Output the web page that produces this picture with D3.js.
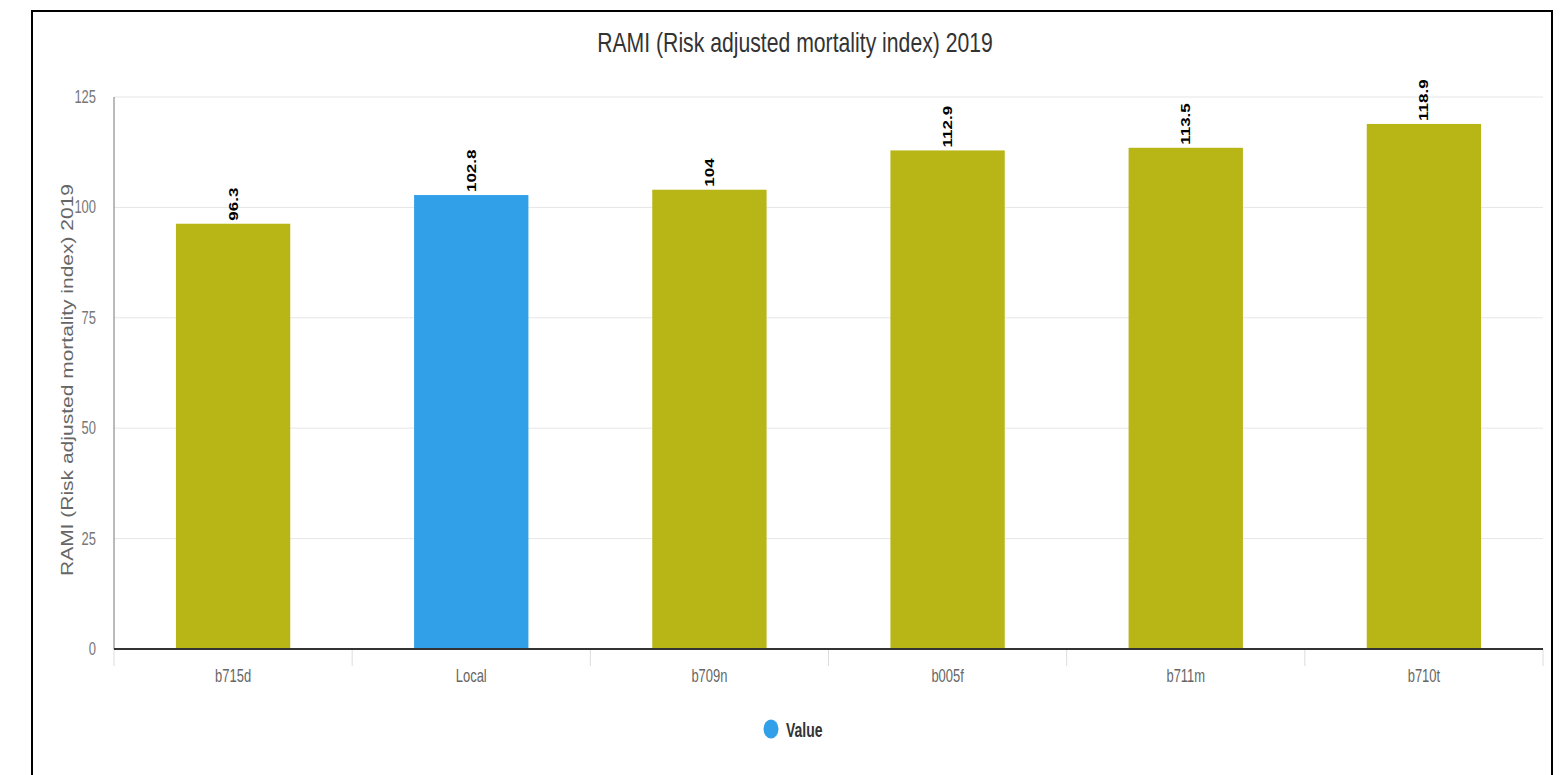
<!DOCTYPE html>
<html>
<head>
<meta charset="utf-8">
<script src="https://cdn.jsdelivr.net/npm/d3@7"></script>
<style>
  body { margin: 0; background: #fff; }
  svg { display: block; }
  text { font-family: "Liberation Sans", Arial, sans-serif; }
</style>
</head>
<body>
<svg id="chart" width="1560" height="775"></svg>
<script>
// Chart data
var categories = ["b715d", "Local", "b709n", "b005f", "b711m", "b710t"];
var values = [96.3, 102.8, 104, 112.9, 113.5, 118.9];
var highlight = "Local";
var yTicks = [0, 25, 50, 75, 100, 125];

var chartTitle = "RAMI (Risk adjusted mortality index) 2019";
var yLabel = "RAMI (Risk adjusted mortality index) 2019";
var legendLabel = "Value";

var olive = "#b8b516",
    blue = "#31a0e8";

// the original text is narrow, squeeze glyphs sideways
var squeeze = 0.72;

var svg = d3.select("#chart"),
    width = +svg.attr("width"),
    height = +svg.attr("height");

var margin = { left: 114, right: 17, top: 97, bottom: 126 };

// outer frame
svg.append("rect")
    .attr("x", 32).attr("y", 11)
    .attr("width", 1520).attr("height", 800)
    .attr("fill", "none")
    .attr("stroke", "#000")
    .attr("stroke-width", 2);

var x = d3.scaleBand()
    .domain(categories)
    .range([margin.left, width - margin.right])
    .paddingInner(0.52)
    .paddingOuter(0.26);

var y = d3.scaleLinear()
    .domain([0, 125])
    .range([height - margin.bottom, margin.top]);

// gridlines
svg.append("g")
    .selectAll("line")
    .data(yTicks.filter(function (d) { return d > 0; }))
    .enter()
    .append("line")
    .attr("x1", margin.left)
    .attr("x2", width - margin.right)
    .attr("y1", function (d) { return y(d); })
    .attr("y2", function (d) { return y(d); })
    .attr("stroke", "#e6e6e6")
    .attr("stroke-width", 1);

// y axis
svg.append("line")
    .attr("x1", margin.left).attr("x2", margin.left)
    .attr("y1", y(125)).attr("y2", y(0))
    .attr("stroke", "#777")
    .attr("stroke-width", 1);
svg.append("g")
    .selectAll("text")
    .data(yTicks)
    .enter()
    .append("text")
    .attr("transform", function (d) {
        return "translate(96," + (y(d) + 6) + ") scale(" + squeeze + ",1)";
    })
    .attr("text-anchor", "end")
    .attr("font-size", "18px")
    .attr("fill", "#777")
    .text(function (d) { return d; });

// bars
svg.append("g")
    .selectAll("rect")
    .data(categories)
    .enter()
    .append("rect")
    .attr("x", function (d) { return x(d); })
    .attr("y", function (d, i) { return y(values[i]); })
    .attr("width", x.bandwidth())
    .attr("height", function (d, i) { return y(0) - y(values[i]); })
    .attr("fill", function (d) { return d === highlight ? blue : olive; });

// value labels
svg.append("g")
    .selectAll("text")
    .data(categories)
    .enter()
    .append("text")
    .attr("transform", function (d, i) {
        return "translate(" + (x(d) + x.bandwidth() / 2 + 4.5) + "," + (y(values[i]) - 3) + ") rotate(-90) scale(1,0.78)";
    })
    .attr("text-anchor", "start")
    .attr("font-size", "17px")
    .attr("font-weight", "bold")
    .attr("fill", "#000")
    .text(function (d, i) { return values[i]; });

// x axis with ticks at band boundaries
var xAxisG = svg.append("g");
var bounds = d3.range(categories.length + 1).map(function (i) {
    return margin.left + i * (width - margin.left - margin.right) / categories.length;
});
xAxisG.selectAll("line.tick")
    .data(bounds)
    .enter()
    .append("line")
    .attr("class", "tick")
    .attr("x1", function (d) { return d; })
    .attr("x2", function (d) { return d; })
    .attr("y1", y(0))
    .attr("y2", y(0) + 17)
    .attr("stroke", "#ddd")
    .attr("stroke-width", 1);
xAxisG.append("line")
    .attr("x1", margin.left)
    .attr("x2", width - margin.right)
    .attr("y1", y(0))
    .attr("y2", y(0))
    .attr("stroke", "#333")
    .attr("stroke-width", 2);
xAxisG.selectAll("text")
    .data(categories)
    .enter()
    .append("text")
    .attr("transform", function (d) {
        return "translate(" + (x(d) + x.bandwidth() / 2) + "," + (y(0) + 33) + ") scale(" + squeeze + ",1)";
    })
    .attr("text-anchor", "middle")
    .attr("font-size", "18px")
    .attr("fill", "#666")
    .text(function (d) { return d; });

// title
svg.append("text")
    .attr("transform", "translate(795,52) scale(0.785,1)")
    .attr("text-anchor", "middle")
    .attr("font-size", "27px")
    .attr("fill", "#333")
    .text(chartTitle);

// y axis label
svg.append("text")
    .attr("transform", "translate(73,380) rotate(-90) scale(1,0.78)")
    .attr("text-anchor", "middle")
    .attr("font-size", "21px")
    .attr("fill", "#666")
    .text(yLabel);

// legend
var legend = svg.append("g").attr("transform", "translate(771,729)");
legend.append("ellipse")
    .attr("rx", 7.5).attr("ry", 9.5)
    .attr("fill", blue);
legend.append("text")
    .attr("transform", "translate(15,8) scale(0.7,1)")
    .attr("font-size", "20px")
    .attr("font-weight", "bold")
    .attr("fill", "#333")
    .text(legendLabel);
</script>
</body>
</html>
